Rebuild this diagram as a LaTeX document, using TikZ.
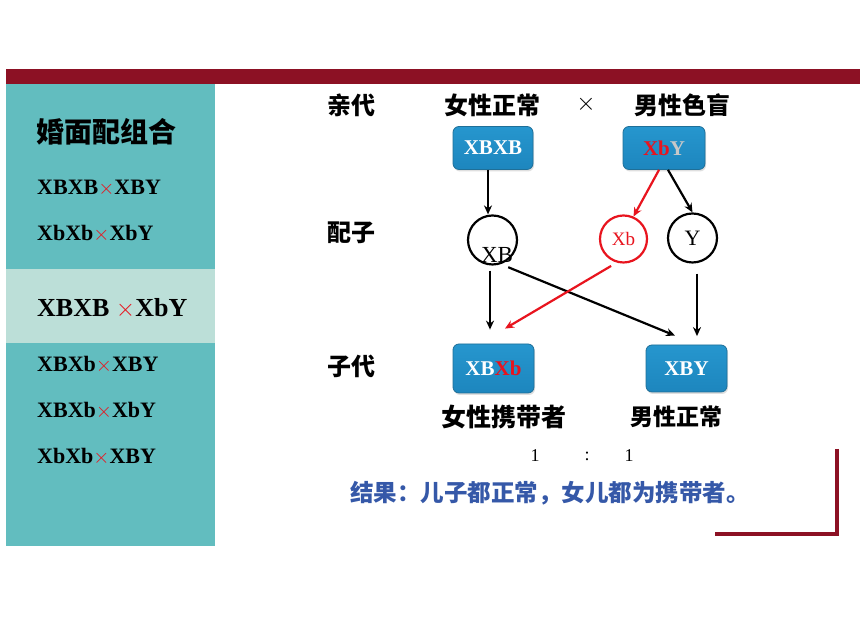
\documentclass[tikz,border=0pt]{standalone}
\usepackage{fontspec}
\setmainfont{Liberation Serif}
\newfontfamily\cjk{Noto Sans CJK SC}
\usetikzlibrary{arrows.meta,shadows}
\definecolor{barred}{HTML}{8C1124}
\definecolor{panelteal}{HTML}{62BDBF}
\definecolor{hilite}{HTML}{BCDFD8}
\definecolor{boxtop}{HTML}{2696CE}
\definecolor{boxbot}{HTML}{1D86BE}
\definecolor{boxedge}{HTML}{1F6F98}
\definecolor{xred}{HTML}{E8141E}
\definecolor{resblue}{HTML}{3558A8}
\definecolor{ygrey}{HTML}{C8C8C8}
\tikzset{
  gen/.style={font=\fontsize{22}{24}\selectfont\bfseries, anchor=west, inner sep=0pt},
  cjkl/.style={font=\cjk\bfseries\fontsize{24}{26}\selectfont, inner sep=0pt},
  gbox/.style={rounded corners=6pt, minimum width=80pt, minimum height=43pt,
    top color=boxtop, bottom color=boxbot, draw=boxedge, line width=0.8pt,
    font=\fontsize{21}{23}\selectfont\bfseries, text=white,
    drop shadow={opacity=0.25, shadow xshift=1pt, shadow yshift=-2pt}},
  gam/.style={circle, draw, line width=2.2pt, inner sep=0pt},
  arr/.style={-{Stealth[length=9pt,width=8pt]}, line width=2.2pt},
}
\newcommand{\rx}{\textcolor{xred}{\ensuremath{\times}}}
\begin{document}
\begin{tikzpicture}[x=1pt,y=1pt]
\useasboundingbox (0,0) rectangle (860,617);
\fill[white] (0,0) rectangle (860,617);
% top bar and left panel
\fill[barred] (6,533) rectangle (860,548);
\fill[panelteal] (6,71) rectangle (215,533);
\fill[hilite] (6,274) rectangle (215,348);
% left panel texts
\node[font=\cjk\bfseries\fontsize{28}{30}\selectfont, anchor=west, inner sep=0pt] (title) at (36,485) {婚面配组合};
\node[gen] (m1) at (37,429) {XBXB\rx{}XBY};
\node[gen] (m2) at (37,383) {XbXb\rx{}XbY};
\node[gen, font=\fontsize{26}{28}\selectfont\bfseries] (m3) at (37,308) {XBXB \rx{}XbY};
\node[gen] (m4) at (37,252) {XBXb\rx{}XBY};
\node[gen] (m5) at (37,206) {XBXb\rx{}XbY};
\node[gen] (m6) at (37,160) {XbXb\rx{}XBY};
% row labels
\node[cjkl] (l1) at (351.5,512) {亲代};
\node[cjkl] (l2) at (351.5,384) {配子};
\node[cjkl] (l3) at (351.5,251) {子代};
% parents
\node[cjkl] (pf) at (492,512) {女性正常};
\node[font=\fontsize{30}{32}\selectfont, inner sep=0pt] (cross) at (586,513) {$\times$};
\node[cjkl] (pm) at (682,512) {男性色盲};
\node[gbox] (p1) at (493,469) {XBXB};
\node[gbox, minimum width=82pt] (p2) at (664,469) {\textcolor{xred}{Xb}\textcolor{ygrey}{Y}};
% gametes
\node[gam, minimum size=49pt] (g1) at (492.5,377) {};
\node[font=\fontsize{23}{25}\selectfont, inner sep=0pt] (t1) at (497,362) {XB};
\node[gam, draw=xred, minimum size=47pt, text=xred, font=\fontsize{19}{21}\selectfont] (g2) at (623.5,378) {Xb};
\node[gam, minimum size=49pt, font=\fontsize{22}{24}\selectfont] (g3) at (692.5,379) {Y};
% children
\node[gbox, minimum width=81pt, minimum height=49pt] (c1) at (493.5,248.5) {XB\textcolor{xred}{Xb}};
\node[gbox, minimum width=81pt, minimum height=47pt] (c2) at (686.5,248.5) {XBY};
\node[font=\cjk\bfseries\fontsize{25}{27}\selectfont, inner sep=0pt] (cf) at (503.5,200) {女性携带者};
\node[font=\cjk\bfseries\fontsize{23}{25}\selectfont, inner sep=0pt] (cm) at (676,200) {男性正常};
% ratio
\node[font=\fontsize{18}{20}\selectfont, inner sep=0pt] (r1) at (535,161) {1};
\node[font=\fontsize{18}{20}\selectfont, inner sep=0pt] (r2) at (587,161) {:};
\node[font=\fontsize{18}{20}\selectfont, inner sep=0pt] (r3) at (629,161) {1};
% result
\node[font=\cjk\bfseries\fontsize{23.5}{26}\selectfont, text=resblue, anchor=west, inner sep=0pt] (res) at (350,124) {结果：儿子都正常，女儿都为携带者。};
% corner bracket
\draw[barred, line width=4.5pt] (837,168) -- (837,83) -- (715,83);
% arrows
\draw[arr] ([xshift=-5pt]p1.south) -- ([xshift=-4.5pt]g1.north);
\draw[arr, xred] ([xshift=-5pt]p2.south) -- (g2.66);
\draw[arr] ([xshift=4pt]p2.south) -- (g3.north);
\draw[arr, shorten <=5pt, shorten >=14pt] ([xshift=-2.5pt]g1.south) -- ([xshift=-3.5pt]c1.north);
\draw[arr, shorten <=8pt] (g1.-71) -- ([xshift=-11.5pt,yshift=9pt]c2.north);
\draw[arr, xred, shorten <=6.5pt] (g2.254) -- ([xshift=11.5pt,yshift=15pt]c1.north);
\draw[arr, shorten <=10pt, shorten >=8.5pt] ([xshift=4.5pt]g3.south) -- ([xshift=10.5pt]c2.north);
\end{tikzpicture}
\end{document}
